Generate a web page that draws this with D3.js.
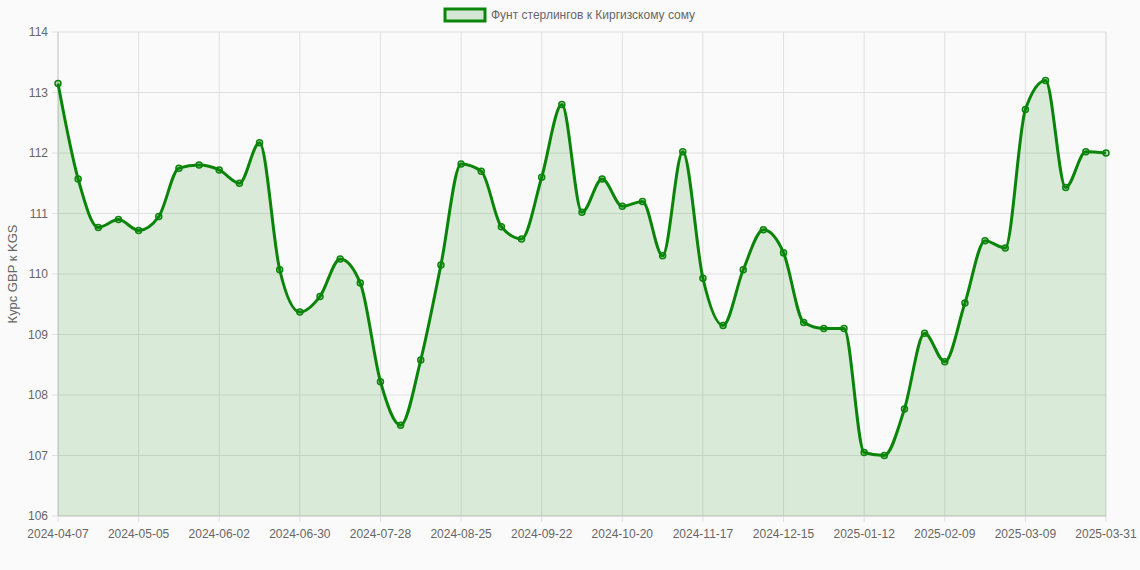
<!DOCTYPE html><html><head><meta charset="utf-8">
<script src="https://cdn.jsdelivr.net/npm/d3@7"></script>
<style>body{margin:0;background:#fafafa}svg{font-family:"Liberation Sans",Arial,sans-serif}</style></head><body>
<svg id="c" width="1140" height="570"></svg>
<script>
const values=[113.15,111.57,110.77,110.9,110.72,110.95,111.75,111.8,111.72,111.5,112.17,110.07,109.37,109.63,110.25,109.85,108.22,107.5,108.58,110.15,111.82,111.7,110.78,110.58,111.6,112.8,111.02,111.57,111.12,111.2,110.3,112.02,109.93,109.15,110.07,110.73,110.35,109.2,109.1,109.1,107.05,107.0,107.77,109.02,108.55,109.52,110.55,110.43,112.72,113.2,111.43,112.02,112.0];
const tickLabels=["2024-04-07","2024-05-05","2024-06-02","2024-06-30","2024-07-28","2024-08-25","2024-09-22","2024-10-20","2024-11-17","2024-12-15","2025-01-12","2025-02-09","2025-03-09","2025-03-31"];
const tickIndex=[0,4,8,12,16,20,24,28,32,36,40,44,48,52];
const yTicks=[106,107,108,109,110,111,112,113,114];
const svg=d3.select("#c");
const L=58,R=1106,T=32,B=516;
const x=d3.scaleLinear().domain([0,values.length-1]).range([L,R]);
const y=d3.scaleLinear().domain([106,114]).range([B,T]);
const g=svg.append("g");
yTicks.forEach(t=>{g.append("line").attr("x1",L-6).attr("x2",R).attr("y1",y(t)).attr("y2",y(t)).attr("stroke","#e0e0e0");
g.append("text").attr("x",L-10).attr("y",y(t)+4).attr("text-anchor","end").attr("font-size",12).attr("fill","#666").text(t);});
tickIndex.forEach((i,k)=>{g.append("line").attr("x1",x(i)).attr("x2",x(i)).attr("y1",T).attr("y2",B+6).attr("stroke","#e0e0e0");
g.append("text").attr("x",x(i)).attr("y",B+22).attr("text-anchor","middle").attr("font-size",12).attr("fill","#666").text(tickLabels[k]);});
g.append("line").attr("x1",R).attr("x2",R).attr("y1",T).attr("y2",B).attr("stroke","#e0e0e0");
g.append("line").attr("x1",L).attr("x2",L).attr("y1",T).attr("y2",B).attr("stroke","#ccc");
g.append("line").attr("x1",L).attr("x2",R).attr("y1",B).attr("y2",B).attr("stroke","#ccc");
const area=d3.area().x((d,i)=>x(i)).y0(B).y1(d=>y(d)).curve(d3.curveMonotoneX);
const line=d3.line().x((d,i)=>x(i)).y(d=>y(d)).curve(d3.curveMonotoneX);
svg.append("path").datum(values).attr("d",area).attr("fill","rgba(0,128,0,0.13)");
svg.append("path").datum(values).attr("d",line).attr("fill","none").attr("stroke","#0a850a").attr("stroke-width",3);
svg.selectAll("circle").data(values).enter().append("circle").attr("cx",(d,i)=>x(i)).attr("cy",d=>y(d)).attr("r",3).attr("fill","rgba(0,128,0,0.2)").attr("stroke","#0a850a").attr("stroke-width",1.5);
svg.append("rect").attr("x",445).attr("y",9).attr("width",40).attr("height",12).attr("fill","rgba(0,128,0,0.15)").attr("stroke","#0a850a").attr("stroke-width",3);
svg.append("text").attr("x",491).attr("y",19).attr("font-size",12).attr("fill","#666").text("Фунт стерлингов к Киргизскому сому");
svg.append("text").attr("transform",`translate(17,${(T+B)/2}) rotate(-90)`).attr("text-anchor","middle").attr("font-size",13).attr("fill","#666").text("Курс GBP к KGS");
</script></body></html>
